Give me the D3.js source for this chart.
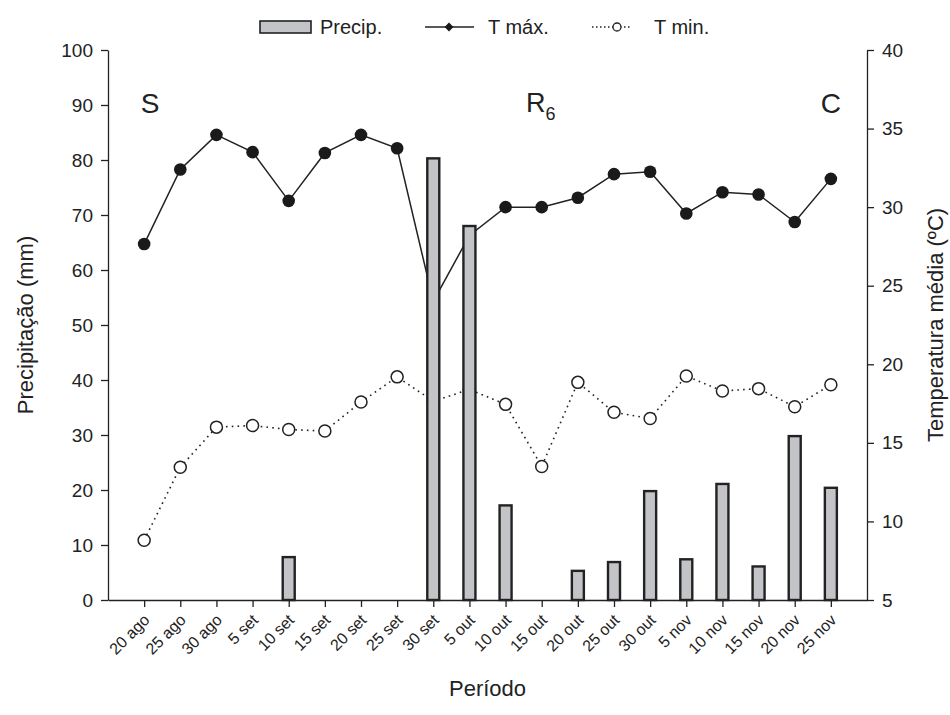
<!DOCTYPE html>
<html>
<head>
<meta charset="utf-8">
<script src="https://cdn.jsdelivr.net/npm/d3@7"></script>
<style>
    body { margin: 0; background: #fff; }
    svg text { font-family: "Liberation Sans", Arial, sans-serif; fill: #222; }
    .axis path, .axis line { stroke: #222; stroke-width: 1.3px; }
</style>
</head>
<body>
<div id="chart"></div>
<script>
/*global d3*/
var periods = ["20 ago", "25 ago", "30 ago", "5 set", "10 set", "15 set", "20 set", "25 set",
    "30 set", "5 out", "10 out", "15 out", "20 out", "25 out", "30 out", "5 nov", "10 nov",
    "15 nov", "20 nov", "25 nov"];
var precip = [0, 0, 0, 0, 7.8, 0, 0, 0, 80.3, 68.0, 17.2, 0, 5.3, 6.9, 19.8, 7.4, 21.1, 6.1, 29.8, 20.4];
var tMax = [27.65, 32.4, 34.6, 33.5, 30.4, 33.45, 34.6, 33.75, 24.0, 28.2, 30.0, 30.0, 30.6, 32.1,
    32.25, 29.6, 30.95, 30.8, 29.05, 31.8];
var tMin = [8.8, 13.45, 16.0, 16.1, 15.85, 15.75, 17.6, 19.2, 17.65, 18.4, 17.45, 13.5, 18.85, 16.95,
    16.55, 19.25, 18.3, 18.45, 17.3, 18.7];
var precipTicks = [0, 10, 20, 30, 40, 50, 60, 70, 80, 90, 100];
var tempTicks = [5, 10, 15, 20, 25, 30, 35, 40];

(function () {
    "use strict";
    var width = 950, height = 715,
        margin = {top: 50, right: 83, bottom: 115, left: 108},
        innerW = width - margin.left - margin.right,
        innerH = height - margin.top - margin.bottom,
        svg, g, x, yP, yT, rows, lineMax, lineMin, leg;

    rows = periods.map(function (p, i) {
        return {period: p, precip: precip[i], tmax: tMax[i], tmin: tMin[i]};
    });

    svg = d3.select('#chart').append('svg')
        .attr('width', width)
        .attr('height', height);

    g = svg.append('g').attr('transform', 'translate(' + margin.left + ',' + margin.top + ')');

    x = d3.scalePoint().domain(periods).range([0, innerW]).padding(1);
    yP = d3.scaleLinear().domain([0, 100]).range([innerH, 0]);
    yT = d3.scaleLinear().domain([5, 40]).range([innerH, 0]);

    // axes
    g.append('g').attr('class', 'axis')
        .call(d3.axisLeft(yP).tickValues(precipTicks).tickSize(7).tickPadding(8).tickSizeOuter(0))
        .selectAll('text').style('font-size', '19px');

    g.append('g').attr('class', 'axis')
        .attr('transform', 'translate(' + innerW + ',0)')
        .call(d3.axisRight(yT).tickValues(tempTicks).tickSize(7).tickPadding(8).tickSizeOuter(0))
        .selectAll('text').style('font-size', '19px');

    g.append('g').attr('class', 'axis')
        .attr('transform', 'translate(0,' + innerH + ')')
        .call(d3.axisBottom(x).tickSize(7).tickSizeOuter(0))
        .selectAll('text')
        .style('font-size', '16px')
        .attr('text-anchor', 'end')
        .attr('dy', null)
        .attr('y', 0)
        .attr('transform', 'translate(6,21) rotate(-45)');

    g.selectAll('.axis path').attr('fill', 'none');

    // lines
    lineMax = d3.line().x(function (d) { return x(d.period); }).y(function (d) { return yT(d.tmax); });
    lineMin = d3.line().x(function (d) { return x(d.period); }).y(function (d) { return yT(d.tmin); });

    g.append('path').datum(rows)
        .attr('d', lineMin)
        .attr('fill', 'none')
        .attr('stroke', '#222')
        .attr('stroke-width', 1.6)
        .attr('stroke-dasharray', '1.6,4.2');

    g.append('path').datum(rows)
        .attr('d', lineMax)
        .attr('fill', 'none')
        .attr('stroke', '#222')
        .attr('stroke-width', 1.5);

    g.selectAll('circle.tmin').data(rows).enter().append('circle')
        .attr('class', 'tmin')
        .attr('cx', function (d) { return x(d.period); })
        .attr('cy', function (d) { return yT(d.tmin); })
        .attr('r', 6)
        .attr('fill', '#fff')
        .attr('stroke', '#222')
        .attr('stroke-width', 1.5);

    g.selectAll('circle.tmax').data(rows).enter().append('circle')
        .attr('class', 'tmax')
        .attr('cx', function (d) { return x(d.period); })
        .attr('cy', function (d) { return yT(d.tmax); })
        .attr('r', 6.3)
        .attr('fill', '#1a1a1a');

    // bars on top
    g.selectAll('rect.bar').data(rows.filter(function (d) { return d.precip > 0; }))
        .enter().append('rect')
        .attr('class', 'bar')
        .attr('x', function (d) { return x(d.period) - 6; })
        .attr('width', 12)
        .attr('y', function (d) { return yP(d.precip); })
        .attr('height', function (d) { return innerH - yP(d.precip); })
        .attr('fill', '#c3c4c8')
        .attr('stroke', '#222')
        .attr('stroke-width', 2.4);

    // stage labels
    g.append('text').attr('x', x('20 ago') + 6).attr('y', 63)
        .attr('text-anchor', 'middle').style('font-size', '28px').text('S');
    g.append('text').attr('x', x('25 nov')).attr('y', 63)
        .attr('text-anchor', 'middle').style('font-size', '28px').text('C');
    g.append('text').attr('x', 418).attr('y', 62)
        .style('font-size', '27px')
        .call(function (t) {
            t.append('tspan').text('R');
            t.append('tspan').attr('dy', 8).style('font-size', '18px').text('6');
        });

    // axis titles
    svg.append('text')
        .attr('transform', 'translate(33,' + (margin.top + innerH / 2) + ') rotate(-90)')
        .attr('text-anchor', 'middle').style('font-size', '22px')
        .text('Precipitação (mm)');
    svg.append('text')
        .attr('transform', 'translate(943,' + (margin.top + innerH / 2) + ') rotate(-90)')
        .attr('text-anchor', 'middle').style('font-size', '22px')
        .text('Temperatura média (ºC)');
    svg.append('text')
        .attr('x', margin.left + innerW / 2).attr('y', 696)
        .attr('text-anchor', 'middle').style('font-size', '22px')
        .text('Período');

    // legend
    leg = svg.append('g').attr('transform', 'translate(0,27)');
    leg.append('rect').attr('x', 260).attr('y', -6).attr('width', 51).attr('height', 12)
        .attr('fill', '#c3c4c8').attr('stroke', '#222').attr('stroke-width', 1.6);
    leg.append('text').attr('x', 320).attr('y', 7).style('font-size', '20px').text('Precip.');
    leg.append('line').attr('x1', 425).attr('x2', 474).attr('y1', 0).attr('y2', 0)
        .attr('stroke', '#222').attr('stroke-width', 1.5);
    leg.append('path').attr('d', d3.symbol(d3.symbolDiamond2, 50)())
        .attr('transform', 'translate(449,0)').attr('fill', '#1a1a1a');
    leg.append('text').attr('x', 488).attr('y', 7).style('font-size', '20px').text('T máx.');
    leg.append('line').attr('x1', 592).attr('x2', 632).attr('y1', 0).attr('y2', 0)
        .attr('stroke', '#222').attr('stroke-width', 1.5).attr('stroke-dasharray', '1.5,2.5');
    leg.append('circle').attr('cx', 617).attr('cy', 0).attr('r', 4)
        .attr('fill', '#fff').attr('stroke', '#222').attr('stroke-width', 1.3);
    leg.append('text').attr('x', 654).attr('y', 7).style('font-size', '20px').text('T min.');
}());
</script>
</body>
</html>
